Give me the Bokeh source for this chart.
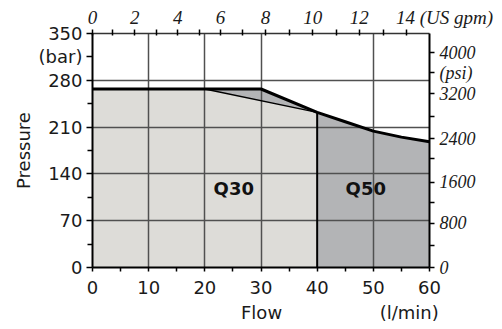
from bokeh.plotting import figure
from bokeh.models import LinearAxis, FixedTicker, Label, Range1d
from bokeh.embed import file_html
from bokeh.resources import INLINE

# ---- data ----
flow_ticks = [0, 10, 20, 30, 40, 50, 60]
flow_minor = [5, 15, 25, 35, 45, 55]
flow_grid = [10, 20, 30, 50]
bar_ticks = [0, 70, 140, 210, 280, 315, 350]
bar_minor = [35, 105, 175, 245]
bar_grid = [70, 140, 210, 280]
bar_overrides = {315: "(bar)"}

gpm_major_pos = [0, 7.5, 15.2, 22.8, 30.8, 39.2, 47.5, 55.9]
gpm_major_labels = ["0", "2", "4", "6", "8", "10", "12", "14"]
gpm_minor_pos = [3.63, 11.4, 19.05, 26.65, 35.1, 43.4, 51.8]
gpm_unit = "(US gpm)"

psi_major_pos = [0, 66.0, 127.5, 192.5, 260.0, 291.5, 321.5]
psi_major_labels = ["0", "800", "1600", "2400", "3200", "(psi)", "4000"]
psi_minor_pos = [32.5, 97.5, 162.5, 226.0]

x_title_pos = [30.1, 56.4]
x_titles = ["Flow", "(l/min)"]

# Q30 curve (thin) and Q50 curve (thick), flow l/min vs bar
q30_x = [0, 20, 40]
q30_y = [267, 267, 232]
q50_x = [0, 30, 40, 45, 50, 55, 60]
q50_y = [267, 267, 232, 218, 204, 195, 188]

labels_text = ["Q30", "Q50"]
labels_x = [25.15, 48.65]
labels_y = [117.6, 117.6]

LIGHT = "#dddcd8"
DARK = "#b3b4b6"
GRID = "#505050"
SANS = "DejaVu Sans"
SERIF = "Liberation Serif"
INK = "#1a1a1a"

p = figure(width=502, height=329, output_backend="svg", toolbar_location=None,
           x_range=Range1d(0, 60), y_range=Range1d(0, 350),
           min_border_left=92, min_border_right=73, min_border_top=33, min_border_bottom=62)
p.outline_line_color = None
p.background_fill_color = "white"
p.border_fill_color = "white"

# fills
light_x = [q30_x[0]] + q30_x + [q30_x[-1]]
light_y = [0] + q30_y + [0]
p.patch(light_x, light_y, fill_color=LIGHT, line_color=None, level="image")

tri_x = [q30_x[1]] + q50_x[1:3]
tri_y = [q30_y[1]] + q50_y[1:3]
p.patch(tri_x, tri_y, fill_color=DARK, line_color=None, level="image")

dark_x = [q50_x[2]] + q50_x[2:] + [q50_x[-1]]
dark_y = [0] + q50_y[2:] + [0]
p.patch(dark_x, dark_y, fill_color=DARK, line_color=None, level="image")

# lines
p.line(q30_x, q30_y, line_color="black", line_width=1.3)
p.line(q50_x, q50_y, line_color="black", line_width=3)
p.line([q50_x[2], q50_x[2]], [0, q50_y[2]], line_color="black", line_width=2)

# grids
p.xgrid.ticker = FixedTicker(ticks=flow_grid)
p.ygrid.ticker = FixedTicker(ticks=bar_grid)
for g in (p.xgrid, p.ygrid):
    g.grid_line_color = GRID
    g.grid_line_width = 1.5

# bottom axis
xa = p.xaxis[0]
xa.ticker = FixedTicker(ticks=flow_ticks, minor_ticks=flow_minor)
xa.axis_line_color = "black"
xa.axis_line_width = 2
xa.major_tick_in = 0
xa.major_tick_out = 4
xa.minor_tick_in = 0
xa.minor_tick_out = 4
xa.major_tick_line_width = 1.5
xa.minor_tick_line_width = 1.5
xa.major_label_text_font = SANS
xa.major_label_text_font_size = "18px"
xa.major_label_text_color = INK
xa.major_label_standoff = 9

# second bottom row: "Flow" and "(l/min)" as text under the axis
xa2 = LinearAxis(ticker=FixedTicker(ticks=x_title_pos),
                 major_label_overrides=dict(zip(x_title_pos, x_titles)))
xa2.axis_line_color = None
xa2.major_tick_line_color = None
xa2.minor_tick_line_color = None
xa2.major_tick_in = 0
xa2.major_tick_out = 0
xa2.major_label_text_font = SANS
xa2.major_label_text_font_size = "18px"
xa2.major_label_text_color = INK
xa2.major_label_standoff = 5
p.add_layout(xa2, "below")

# left axis
ya = p.yaxis[0]
ya.ticker = FixedTicker(ticks=bar_ticks, minor_ticks=bar_minor)
ya.major_label_overrides = bar_overrides
ya.axis_line_color = "black"
ya.axis_line_width = 2
ya.major_tick_in = 0
ya.major_tick_out = 6
ya.minor_tick_in = 0
ya.minor_tick_out = 5
ya.major_tick_line_width = 1.5
ya.minor_tick_line_width = 1.5
ya.major_label_text_font = SANS
ya.major_label_text_font_size = "18px"
ya.major_label_text_color = INK
ya.major_label_standoff = 4
ya.axis_label = "Pressure"
ya.axis_label_text_font = SANS
ya.axis_label_text_font_style = "normal"
ya.axis_label_text_font_size = "18px"
ya.axis_label_text_color = INK
ya.axis_label_standoff = 2

# top axis (US gpm); the unit follows the last label, which stays centred on its tick
top_labels = list(gpm_major_labels)
top_labels[-1] = "\u00a0" * 16 + top_labels[-1] + " " + gpm_unit
ta = LinearAxis(ticker=FixedTicker(ticks=gpm_major_pos, minor_ticks=gpm_minor_pos),
                major_label_overrides=dict(zip(gpm_major_pos, top_labels)))
ta.axis_line_color = "#333333"
ta.axis_line_width = 1.5
ta.major_tick_in = 2
ta.major_tick_out = 4
ta.minor_tick_in = 2
ta.minor_tick_out = 4
ta.major_tick_line_width = 1.5
ta.minor_tick_line_width = 1.5
ta.major_label_text_font = SERIF
ta.major_label_text_font_style = "italic"
ta.major_label_text_font_size = "19px"
ta.major_label_text_color = INK
ta.major_label_standoff = 2
p.add_layout(ta, "above")

# right axis (psi)
ra = LinearAxis(ticker=FixedTicker(ticks=psi_major_pos, minor_ticks=psi_minor_pos),
                major_label_overrides=dict(zip(psi_major_pos, psi_major_labels)))
ra.axis_line_color = "black"
ra.axis_line_width = 2
ra.major_tick_in = 0
ra.major_tick_out = 5
ra.minor_tick_in = 0
ra.minor_tick_out = 5
ra.major_tick_line_width = 1.5
ra.minor_tick_line_width = 1.5
ra.major_label_text_font = SERIF
ra.major_label_text_font_style = "italic"
ra.major_label_text_font_size = "18px"
ra.major_label_text_color = INK
ra.major_label_standoff = 5
p.add_layout(ra, "right")

# region labels
for t, x, y in zip(labels_text, labels_x, labels_y):
    p.add_layout(Label(x=x, y=y, text=t, text_font=SANS, text_font_style="bold",
                       text_font_size="18px", text_align="center", text_baseline="middle",
                       text_color="#111111"))

open("out.html", "w").write(file_html(p, INLINE))
